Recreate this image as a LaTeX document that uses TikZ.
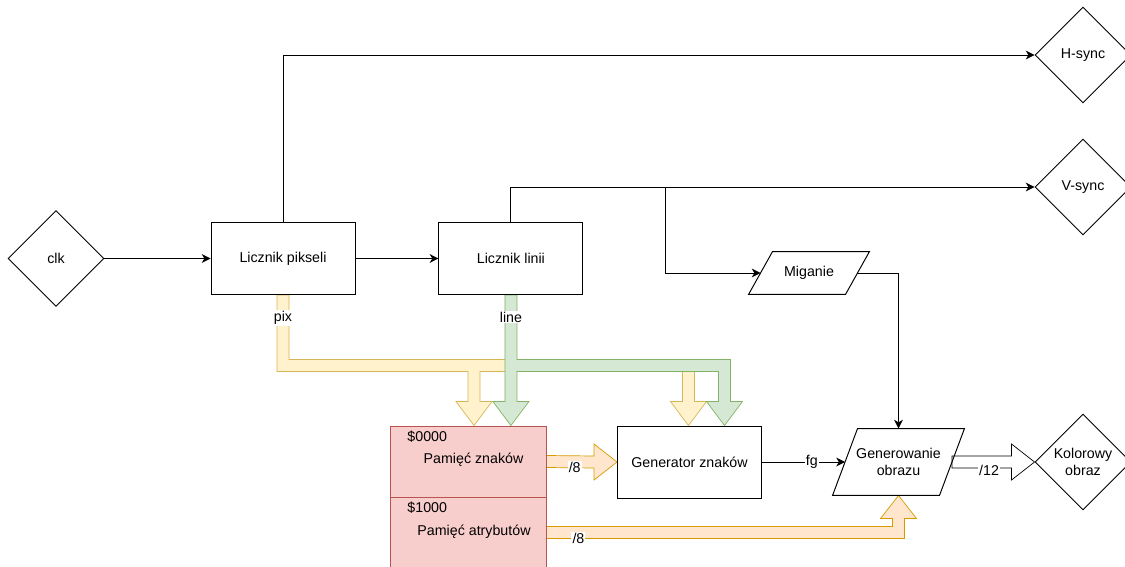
\documentclass[tikz,border=0pt]{standalone}
\usepackage{fontspec}
\setmainfont{Liberation Sans}
\usepackage{tikz}
\usetikzlibrary{shapes.geometric, positioning, calc, arrows.meta, backgrounds}

\definecolor{memfill}{HTML}{F8CECC}
\definecolor{memline}{HTML}{B85450}
\definecolor{pixfill}{HTML}{FFF2CC}
\definecolor{pixline}{HTML}{D6B656}
\definecolor{linefill}{HTML}{D5E8D4}
\definecolor{lineline}{HTML}{82B366}
\definecolor{busfill}{HTML}{FFE6CC}
\definecolor{busline}{HTML}{D79B00}

\begin{document}
\begin{tikzpicture}[x=0.02cm, y=-0.02cm,
		font=\fontsize{8.1}{9.6}\selectfont,
		line width=0.55pt,
		>={Stealth[length=5pt,width=5pt,inset=1.5pt]},
		block/.style={draw, minimum width=2.88cm, minimum height=1.44cm, inner sep=0pt},
		port/.style={draw, diamond, minimum width=1.92cm, minimum height=1.92cm, inner sep=0pt, align=center},
		slanted/.style={inner sep=0pt, align=center},
		mem/.style={draw=memline, fill=memfill, minimum width=3.12cm, minimum height=1.42cm, inner sep=0pt},
		pixbus/.style={draw=pixline, fill=pixfill},
		linebus/.style={draw=lineline, fill=linefill},
		databus/.style={draw=busline, fill=busfill},
		tag/.style={fill=white, inner sep=0.6pt}]
		\clip (0,0) rectangle (1125,567);
		% Counters and ports
		\node[port] (clk) at (56,258.5) {clk};
		\node[block] (lp) at (283,258.5) {Licznik pikseli};
		\node[block, right=1.66cm of lp] (ll) {Licznik linii};
		\node[port] (hs) at (1083,55) {H-sync};
		\node[port] (vs) at (1083,187) {V-sync};
		\node[port] (ko) at (1083,462) {Kolorowy\\obraz};
		% Blink and picture generation (parallelograms)
		\node[slanted, minimum width=1.92cm, minimum height=0.84cm] (mig) at (809,273) {Miganie};
		\draw ($(mig.south west)+(-12,0)$) -- ($(mig.south east)+(-12,0)$)
			-- ($(mig.north east)+(12,0)$) -- ($(mig.north west)+(12,0)$) -- cycle;
		\node[slanted, minimum width=2.12cm, minimum height=1.32cm] (gob) at (898.5,462) {Generowanie\\obrazu};
		\draw ($(gob.south west)+(-12.5,0)$) -- ($(gob.south east)+(-12.5,0)$)
			-- ($(gob.north east)+(12.5,0)$) -- ($(gob.north west)+(12.5,0)$) -- cycle;
		\node[block] (gen) at (689.5,462) {Generator znaków};
		% Memory
		\node[mem] (zn) at (468,461.5) {};
		\node[mem] (za) at (468,532.5) {};
		\node (znt) at (473.5,460) {Pamięć znaków};
		\node (zat) at (474,532) {Pamięć atrybutów};
		\node[anchor=west, inner sep=0pt] (zna) at (407,436.5) {\$0000};
		\node[anchor=west, inner sep=0pt] (zaa) at (407,507.5) {\$1000};
		% Arrow tips of the buses
		\coordinate (tz) at ($(zn.north)+(6,0)$);
		\coordinate (tl) at (ll.south |- zn.north);
		\coordinate (tg1) at ($(gen.north)+(-1,0)$);
		\coordinate (tg2) at ($(gen.north)+(35,0)$);
		% Buses
		\begin{scope}[on background layer]
			\filldraw[pixbus] ($(lp.south)+(-6,0)$) |- ($(tz)+(-6,-54)$) -- ++(0,30) -- ++(-12,0)
				-- (tz) -- ++(18,-24) -- ++(-12,0) |- ($(tg1)+(-6,-54)$) -- ++(0,30) -- ++(-12,0)
				-- (tg1) -- ++(18,-24) -- ++(-12,0) -- ++(0,-42) -| ($(lp.south)+(6,0)$) -- cycle;
			\filldraw[linebus] ($(ll.south)+(-6,0)$) -- ($(tl)+(-6,-24)$) -- ++(-12,0)
				-- (tl) -- ++(18,-24) -- ++(-12,0) |- ($(tg2)+(-6,-54)$) -- ++(0,30) -- ++(-12,0)
				-- (tg2) -- ++(18,-24) -- ++(-12,0) -- ++(0,-42) -| ($(ll.south)+(6,0)$) -- cycle;
			\filldraw[databus] ($(zn.east)+(0,-6)$) -- ($(gen.west)+(-23,-6)$) -- ++(0,-12)
				-- (gen.west) -- ++(-23,18) -- ++(0,-12) -- ($(zn.east)+(0,6)$) -- cycle;
			\filldraw[databus] ($(za.east)+(0,-6)$) -| ($(gob.south)+(-6,23)$) -- ++(-12,0)
				-- (gob.south) -- ++(18,23) -- ++(-12,0) |- ($(za.east)+(0,6)$) -- cycle;
			\filldraw[fill=white, draw=black] ($(gob.east)+(0,-6)$) -- ($(ko.west)+(-23,-6)$) -- ++(0,-12)
				-- (ko.west) -- ++(-23,18) -- ++(0,-12) -- ($(gob.east)+(0,6)$) -- cycle;
		\end{scope}
		\node[tag] (tpix) at ($(lp.south)+(0,23)$) {pix};
		\node[tag] (tline) at ($(ll.south)+(0,22)$) {line};
		\node[tag] (t8a) at ($(zn.east)!0.4!(gen.west)+(0,6)$) {/8};
		\node[tag] (t8b) at ($(za.east)+(32,6)$) {/8};
		\node[tag] (t12) at ($(gob.east)!0.45!(ko.west)+(0,8)$) {/12};
		% Control lines
		\draw[->] (clk) -- (lp);
		\draw[->] (lp) -- (ll);
		\draw[->] (lp.north) |- (hs.west);
		\draw[->] (ll.north) |- (vs.west);
		\coordinate (split) at ($(ll.north |- vs.west)+(155,0)$);
		\draw[->] (split) |- (mig.west);
		\draw[->] (mig.east) -| (gob.north);
		\draw[->] (gen) -- (gob.west) node[tag, pos=0.6] {fg};
	\end{tikzpicture}
\end{document}
